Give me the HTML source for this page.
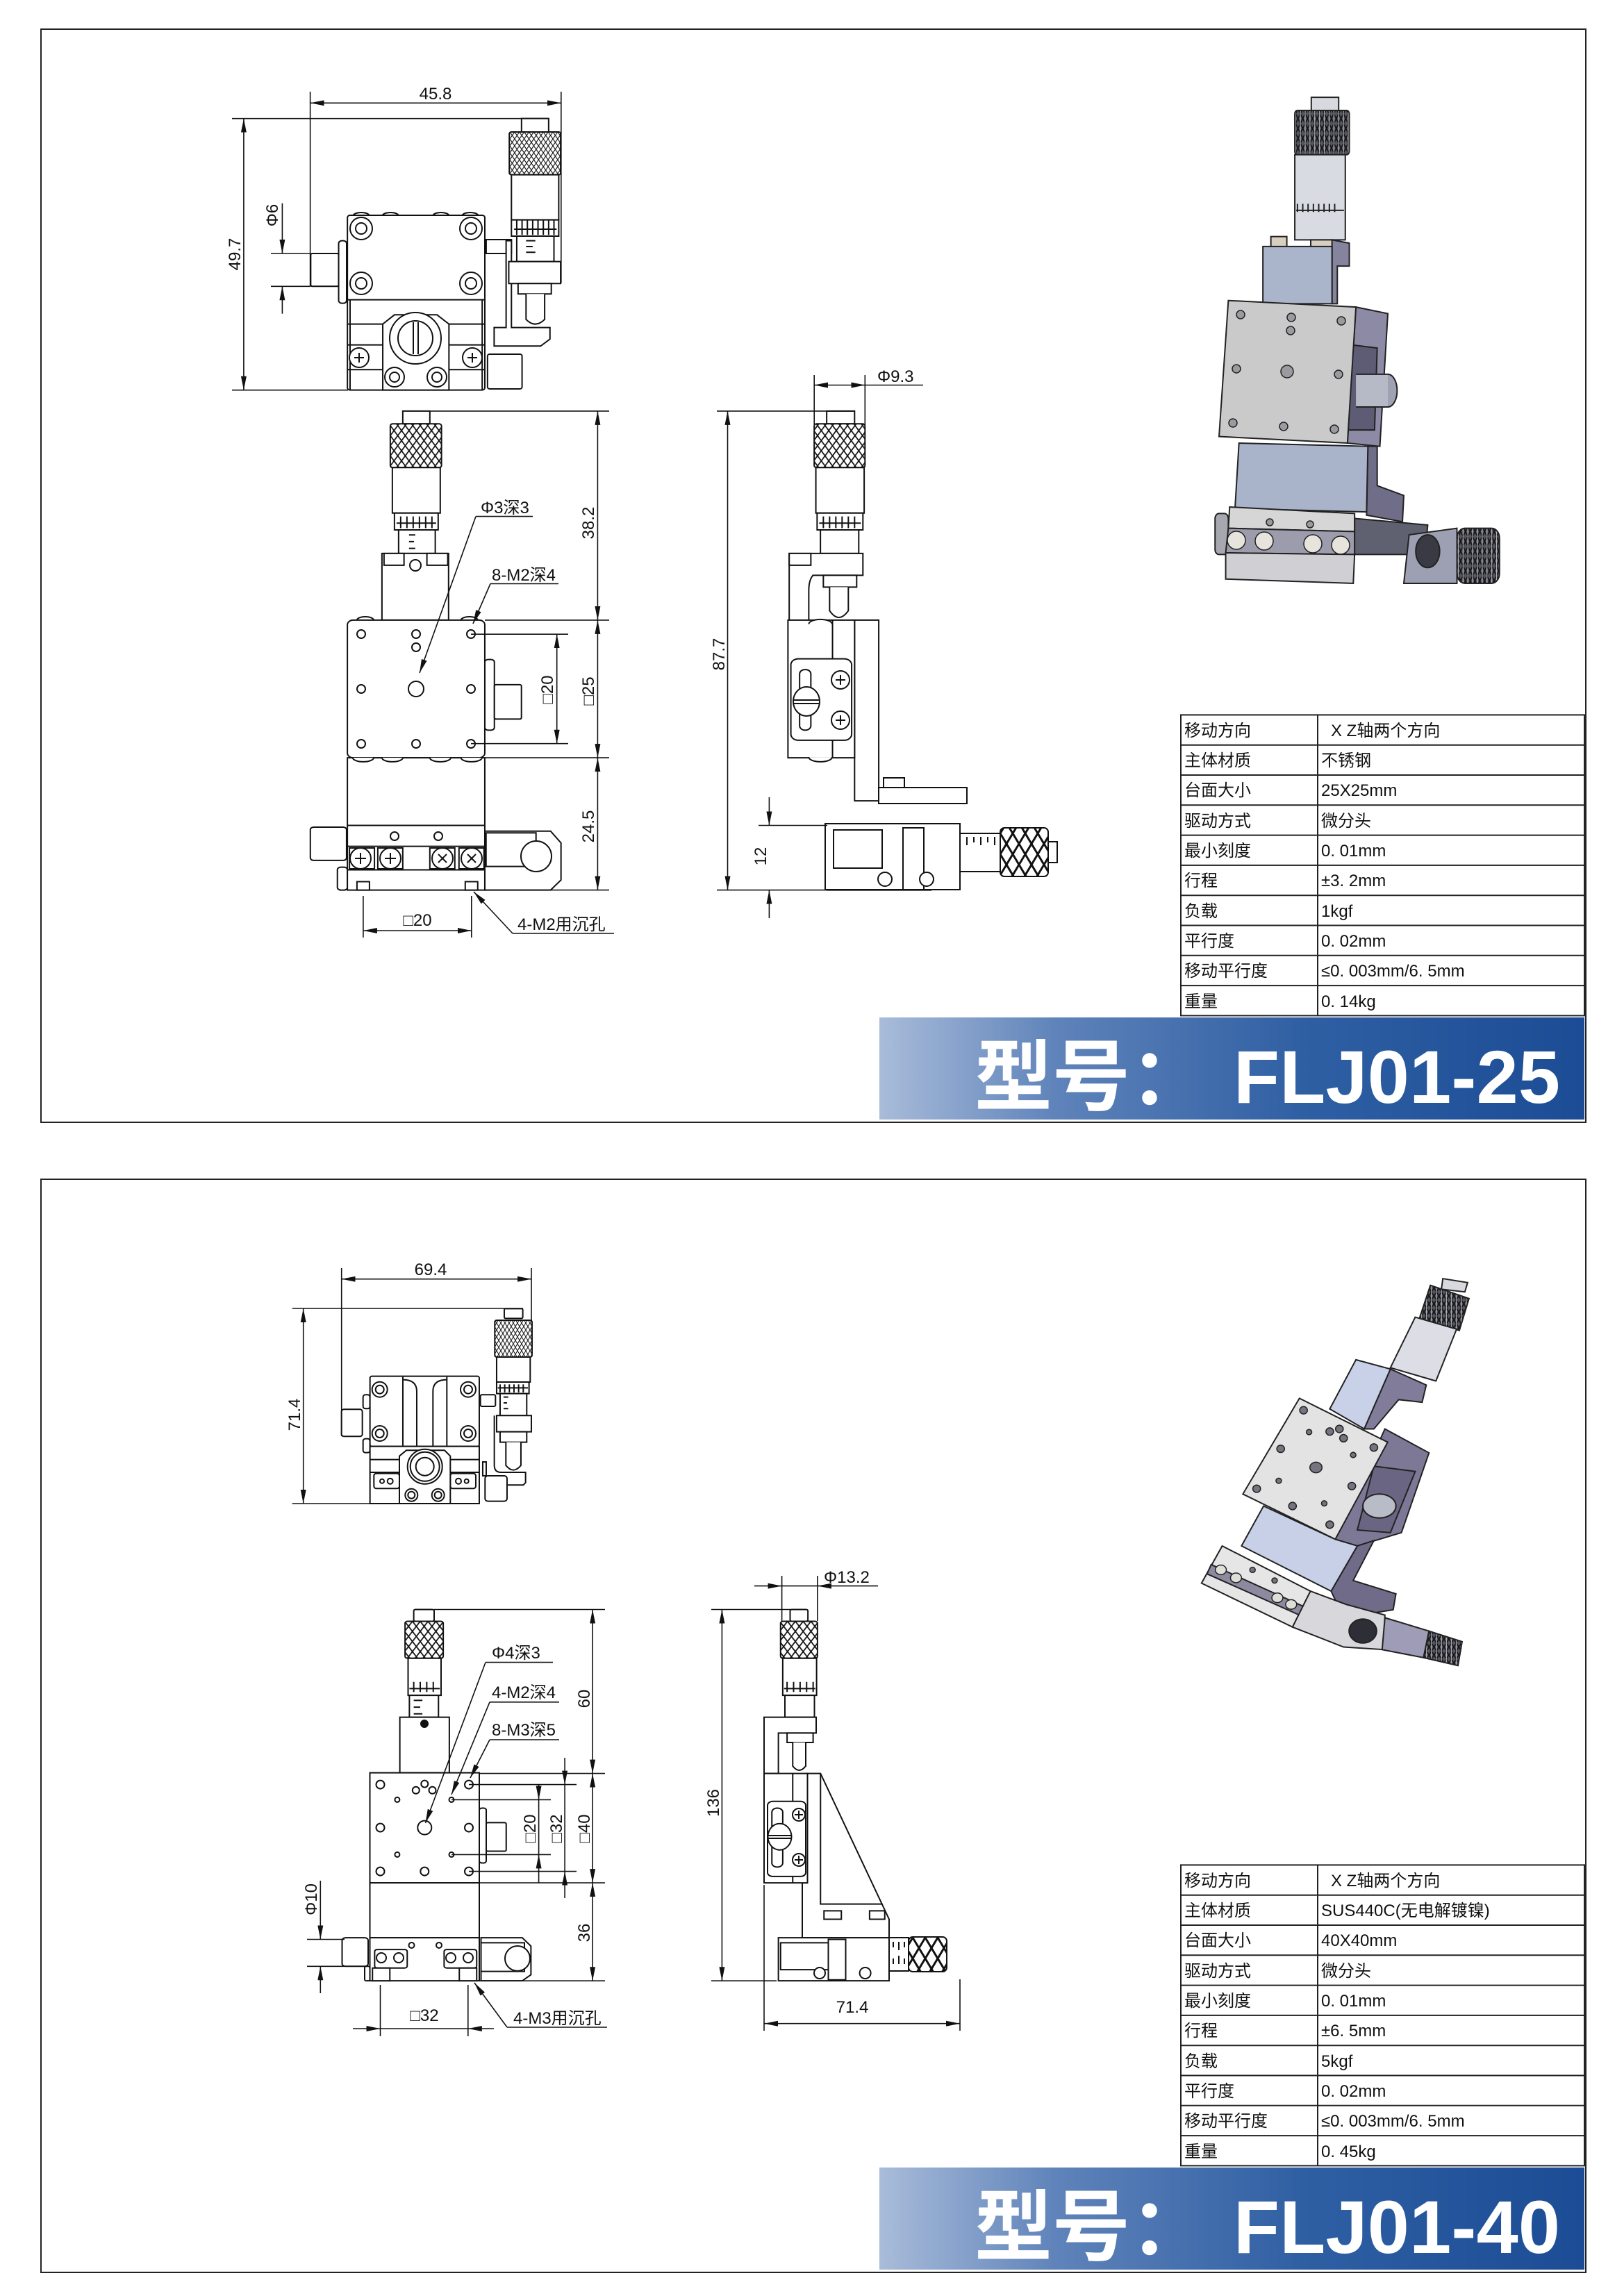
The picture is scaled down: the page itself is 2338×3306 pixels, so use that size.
<!DOCTYPE html>
<html><head><meta charset="utf-8"><style>
html,body{margin:0;padding:0;background:#fff}
svg{display:block}
.d *{vector-effect:non-scaling-stroke}
.d{fill:#fff;stroke:#111;stroke-width:2}
.dim{stroke:#111;stroke-width:1.6;fill:none}
.t{font-family:"Liberation Sans","Noto Sans CJK SC",sans-serif;font-size:24px;fill:#111}
.tb{font-family:"Liberation Sans","Noto Sans CJK SC",sans-serif;font-size:24px;fill:#111}
.r *{vector-effect:non-scaling-stroke}
.r{stroke:#222;stroke-width:2}
</style></head><body>
<svg width="2338" height="3306" viewBox="0 0 2338 3306" xmlns="http://www.w3.org/2000/svg">
<defs>
<marker id="a" viewBox="0 0 20 8" refX="20" refY="4" markerWidth="20" markerHeight="8" orient="auto-start-reverse" markerUnits="userSpaceOnUse"><path d="M0,0L20,4L0,8z" fill="#111"/></marker>
<pattern id="kn" width="18" height="30" patternUnits="userSpaceOnUse"><rect width="18" height="30" fill="#fff"/><path d="M0,0L18,30M18,0L0,30" stroke="#111" stroke-width="3"/></pattern>
<pattern id="kd" width="18" height="30" patternUnits="userSpaceOnUse"><rect width="18" height="30" fill="#55555f"/><path d="M0,0L18,30M18,0L0,30" stroke="#111" stroke-width="4"/><path d="M9,0L9,30" stroke="#b9b9c4" stroke-width="3"/></pattern>
<linearGradient id="bg" x1="0" y1="0" x2="1" y2="0"><stop offset="0" stop-color="#a9bcd9"/><stop offset="0.25" stop-color="#5f83ba"/><stop offset="0.6" stop-color="#2f5fa3"/><stop offset="1" stop-color="#1b4c95"/></linearGradient>
</defs>
<rect width="2338" height="3306" fill="#fff"/>

<rect x="59" y="42" width="2224" height="1574" fill="none" stroke="#222" stroke-width="2"/>
<rect x="59" y="1698" width="2224" height="1574" fill="none" stroke="#222" stroke-width="2"/>

<!-- ============ PANEL 1 TOP VIEW ============ -->
<g class="d" transform="translate(300,100) scale(0.3827,0.3333)">
<path d="M545,632a30,14 0 0 1 60,0M655,632a30,14 0 0 1 60,0M845,632a30,14 0 0 1 60,0M955,632a30,14 0 0 1 60,0"/>
<rect x="523" y="630" width="517" height="755" rx="10"/>
<line x1="523" y1="995" x2="1040" y2="995"/>
<line x1="523" y1="1100" x2="1040" y2="1100"/>
<line x1="523" y1="1190" x2="1040" y2="1190"/>
<line x1="523" y1="1297" x2="1040" y2="1297"/>
<line x1="533" y1="995" x2="533" y2="1385"/><line x1="1030" y1="995" x2="1030" y2="1385"/>
<path d="M700,1060L860,1060L905,1100L905,1385L656,1385L656,1100Z"/>
<rect x="385" y="795" width="105" height="142" rx="6"/>
<rect x="490" y="740" width="30" height="270" rx="12"/>
<rect x="1045" y="735" width="95" height="60"/>
<path d="M1120,740L1140,740L1140,1115L1285,1115L1285,1165L1250,1195L1075,1195L1075,1115L1120,1115Z"/>
<rect x="1050" y="1230" width="130" height="150" rx="8"/>
<rect x="1178" y="212" width="102" height="58"/>
<rect x="1132" y="270" width="193" height="185" rx="8" fill="url(#kn)"/>
<rect x="1140" y="455" width="178" height="195"/>
<rect x="1140" y="650" width="178" height="70"/>
<path d="M1150,690L1310,690M1160,650L1160,715M1180,650L1180,715M1200,650L1200,715M1220,650L1220,715M1240,650L1240,715M1260,650L1260,715M1280,650L1280,715M1300,650L1300,715" fill="none"/>
<rect x="1160" y="720" width="140" height="110"/>
<path d="M1195,740L1230,740M1195,765L1220,765M1195,790L1230,790" fill="none"/>
<rect x="1130" y="830" width="195" height="95"/>
<rect x="1165" y="925" width="125" height="45"/>
<path d="M1195,970L1195,1080Q1230,1120 1265,1080L1265,970"/>
</g>
<g fill="#fff" stroke="#111" stroke-width="2">
<circle cx="520" cy="329" r="16"/><circle cx="520" cy="329" r="8"/>
<circle cx="678" cy="329" r="16"/><circle cx="678" cy="329" r="8"/>
<circle cx="520" cy="408" r="16"/><circle cx="520" cy="408" r="8"/>
<circle cx="678" cy="408" r="16"/><circle cx="678" cy="408" r="8"/>
<circle cx="598" cy="487" r="37"/><circle cx="598" cy="487" r="25"/>
<path d="M595,464L595,510M602,464L602,510"/>
<circle cx="517" cy="515" r="14"/><circle cx="680" cy="515" r="14"/>
<circle cx="568" cy="543" r="14"/><circle cx="568" cy="543" r="7"/>
<circle cx="629" cy="543" r="14"/><circle cx="629" cy="543" r="7"/>
<path d="M510,515h14M517,508v14M673,515h14M680,508v14"/>
</g>
<g class="dim">
<line x1="446.6" y1="148.3" x2="807.8" y2="148.3" marker-start="url(#a)" marker-end="url(#a)"/>
<line x1="446.6" y1="132" x2="446.6" y2="412"/><line x1="807.8" y1="132" x2="807.8" y2="408"/>
<line x1="350.9" y1="170.7" x2="350.9" y2="561.7" marker-start="url(#a)" marker-end="url(#a)"/>
<line x1="334" y1="170.7" x2="790" y2="170.7"/><line x1="334" y1="561.7" x2="501" y2="561.7"/>
<line x1="406.4" y1="292.7" x2="406.4" y2="365" marker-end="url(#a)"/>
<line x1="406.4" y1="412.3" x2="406.4" y2="451.7" marker-start="url(#a)"/>
<line x1="390" y1="365" x2="447" y2="365"/><line x1="390" y1="412.3" x2="447" y2="412.3"/>
</g>
<text class="t" x="627" y="143" text-anchor="middle">45.8</text>
<text class="t" transform="translate(346,366) rotate(-90)" text-anchor="middle">49.7</text>
<text class="t" transform="translate(400,310) rotate(-90)" text-anchor="middle">Φ6</text>

<!-- ============ PANEL 1 FRONT + SIDE ============ -->
<g class="d" transform="translate(400,540) scale(0.5995,0.4847)">
<rect x="300" y="107" width="65" height="38"/>
<rect x="270" y="145" width="123" height="130" rx="6" fill="url(#kn)"/>
<rect x="275" y="275" width="115" height="135"/>
<rect x="280" y="410" width="105" height="50"/>
<path d="M285,440L380,440M295,420v35M310,420v35M325,420v35M340,420v35M355,420v35M370,420v35" fill="none"/>
<rect x="290" y="460" width="88" height="70"/>
<path d="M315,475h15M315,495h12M315,515h15" fill="none"/>
<rect x="250" y="530" width="160" height="198"/>
<rect x="255" y="530" width="48" height="35"/><rect x="358" y="530" width="50" height="35"/>
<path d="M190,728a20,10 0 0 1 40,0M440,728a20,10 0 0 1 40,0"/>
<rect x="497" y="845" width="23" height="210" rx="8"/>
<rect x="520" y="920" width="65" height="102" rx="4"/>
<rect x="167" y="728" width="330" height="409" rx="14"/>
<rect x="167" y="1137" width="330" height="201"/>
<path d="M180,1137a25,12 0 0 0 50,0M250,1137a25,12 0 0 0 50,0M365,1137a25,12 0 0 0 50,0M440,1137a25,12 0 0 0 50,0"/>
<rect x="78" y="1343" width="87" height="99" rx="8"/>
<rect x="143" y="1462" width="24" height="68" rx="8"/>
<path d="M497,1355L655,1355L680,1390L680,1500L655,1530L497,1530Z"/>
<rect x="500" y="1360" width="120" height="100"/>
<rect x="167" y="1338" width="330" height="192"/>
<line x1="167" y1="1400" x2="497" y2="1400"/><line x1="167" y1="1470" x2="497" y2="1470"/>
<rect x="172" y="1405" width="60" height="62"/><rect x="240" y="1405" width="60" height="62"/>
<rect x="365" y="1405" width="60" height="62"/><rect x="435" y="1405" width="60" height="62"/>
<rect x="190" y="1505" width="30" height="25"/><rect x="450" y="1505" width="30" height="25"/>
<rect x="1318" y="107" width="67" height="38"/>
<rect x="1288" y="145" width="122" height="130" rx="6" fill="url(#kn)"/>
<rect x="1292" y="275" width="116" height="135"/>
<rect x="1295" y="410" width="110" height="50"/>
<path d="M1300,440L1400,440M1310,420v35M1325,420v35M1340,420v35M1355,420v35M1370,420v35M1385,420v35" fill="none"/>
<rect x="1303" y="460" width="92" height="70"/>
<path d="M1228,530L1405,530L1405,595L1285,595Q1275,610 1275,640L1275,740L1228,740Z"/>
<rect x="1228" y="530" width="52" height="35"/>
<rect x="1310" y="595" width="80" height="35"/>
<path d="M1325,630L1325,700Q1347,740 1370,700L1370,630"/>
<rect x="1385" y="728" width="58" height="537"/>
<rect x="1225" y="728" width="160" height="409"/>
<line x1="1332" y1="728" x2="1332" y2="1137"/>
<path d="M1275,740a28,14 0 0 1 56,0M1275,1135a28,14 0 0 0 56,0"/>
<rect x="1232" y="843" width="146" height="242" rx="18"/>
<rect x="1253" y="875" width="27" height="180" rx="13"/>
<rect x="1320" y="1338" width="248" height="192"/>
</g>
<g fill="#fff" stroke="#111" stroke-width="2">
<circle cx="598" cy="814" r="8"/>
<circle cx="520" cy="913" r="6"/><circle cx="599" cy="913" r="6"/><circle cx="678" cy="913" r="6"/>
<circle cx="599" cy="932" r="6"/>
<circle cx="520" cy="992" r="6"/><circle cx="599" cy="992" r="11"/><circle cx="678" cy="992" r="6"/>
<circle cx="520" cy="1071" r="6"/><circle cx="599" cy="1071" r="6"/><circle cx="678" cy="1071" r="6"/>
<circle cx="568" cy="1204" r="6"/><circle cx="631" cy="1204" r="6"/>
<circle cx="519" cy="1236" r="15"/><circle cx="562" cy="1236" r="15"/><circle cx="637" cy="1236" r="15"/><circle cx="679" cy="1236" r="15"/>
<path d="M511,1236h16M519,1228v16M554,1236h16M562,1228v16M631,1230l12,12M643,1230l-12,12M673,1230l12,12M685,1230l-12,12"/>
<circle cx="772" cy="1233" r="22"/>
<ellipse cx="1161" cy="1010" rx="19" ry="21"/><path d="M1143,1008h36M1143,1013h36"/>
<circle cx="1210" cy="979" r="13"/><circle cx="1210" cy="1037" r="13"/>
<path d="M1203,979h14M1210,972v14M1203,1037h14M1210,1030v14"/>
<rect x="1265" y="1134" width="127" height="23"/>
<rect x="1272" y="1120" width="30" height="14"/>
<rect x="1188" y="1186" width="194" height="95"/>
<rect x="1200" y="1195" width="70" height="55"/>
<rect x="1300" y="1192" width="30" height="89"/>
<circle cx="1274" cy="1266" r="10"/><circle cx="1334" cy="1266" r="10"/>
<rect x="1382" y="1200" width="58" height="55"/>
<path d="M1392,1205v12M1402,1205v8M1412,1205v12M1422,1205v8M1432,1205v12"/>
<rect x="1440" y="1192" width="69" height="70" rx="6" fill="url(#kn)"/>
<rect x="1509" y="1212" width="13" height="30"/>
</g>
<g class="dim">
<line x1="860.4" y1="591.9" x2="860.4" y2="892.9" marker-start="url(#a)" marker-end="url(#a)"/>
<line x1="860.4" y1="892.9" x2="860.4" y2="1091.1" marker-start="url(#a)" marker-end="url(#a)"/>
<line x1="860.4" y1="1091.1" x2="860.4" y2="1281.6" marker-start="url(#a)" marker-end="url(#a)"/>
<line x1="619" y1="591.9" x2="877" y2="591.9"/>
<line x1="698" y1="892.9" x2="877" y2="892.9"/>
<line x1="698" y1="1091.1" x2="877" y2="1091.1"/>
<line x1="698" y1="1281.6" x2="877" y2="1281.6"/>
<line x1="801.7" y1="913.2" x2="801.7" y2="1070.7" marker-start="url(#a)" marker-end="url(#a)"/>
<line x1="678" y1="913.2" x2="818" y2="913.2"/><line x1="678" y1="1070.7" x2="818" y2="1070.7"/>
<line x1="522.9" y1="1290" x2="522.9" y2="1350"/><line x1="678.8" y1="1290" x2="678.8" y2="1350"/>
<line x1="522.9" y1="1340" x2="678.8" y2="1340" marker-start="url(#a)" marker-end="url(#a)"/>
<line x1="738" y1="1344" x2="884" y2="1344"/><line x1="738" y1="1344" x2="682" y2="1284" marker-end="url(#a)"/>
<line x1="685" y1="743.6" x2="767" y2="743.6"/><line x1="685" y1="743.6" x2="604" y2="969" marker-end="url(#a)"/>
<line x1="706" y1="840.5" x2="804" y2="840.5"/><line x1="706" y1="840.5" x2="681" y2="898" marker-end="url(#a)"/>
<line x1="1047.5" y1="591.9" x2="1047.5" y2="1281.6" marker-start="url(#a)" marker-end="url(#a)"/>
<line x1="1032" y1="591.9" x2="1230" y2="591.9"/><line x1="1032" y1="1281.6" x2="1200" y2="1281.6"/>
<line x1="1172.2" y1="554.5" x2="1245.3" y2="554.5" marker-start="url(#a)" marker-end="url(#a)"/>
<line x1="1245.3" y1="554.5" x2="1329" y2="554.5"/>
<line x1="1172.2" y1="540" x2="1172.2" y2="612"/><line x1="1245.3" y1="540" x2="1245.3" y2="612"/>
<line x1="1107.4" y1="1148" x2="1107.4" y2="1188.5" marker-end="url(#a)"/>
<line x1="1107.4" y1="1281.6" x2="1107.4" y2="1322" marker-start="url(#a)"/>
<line x1="1092" y1="1188.5" x2="1191" y2="1188.5"/>
</g>
<text class="t" transform="translate(855,753) rotate(-90)" text-anchor="middle">38.2</text>
<text class="t" transform="translate(855,995) rotate(-90)" text-anchor="middle">□25</text>
<text class="t" transform="translate(855,1190) rotate(-90)" text-anchor="middle">24.5</text>
<text class="t" transform="translate(796,993) rotate(-90)" text-anchor="middle">□20</text>
<text class="t" x="601" y="1333" text-anchor="middle">□20</text>
<text class="t" x="745" y="1339">4-M2用沉孔</text>
<text class="t" x="692" y="739">Φ3深3</text>
<text class="t" x="708" y="836">8-M2深4</text>
<text class="t" transform="translate(1043,942) rotate(-90)" text-anchor="middle">87.7</text>
<text class="t" x="1263" y="550">Φ9.3</text>
<text class="t" transform="translate(1103,1233) rotate(-90)" text-anchor="middle">12</text>

<!-- ============ PANEL 1 RENDER ============ -->
<g class="r" transform="translate(1600,100) scale(0.3827,0.4719)">
<rect x="752" y="85" width="103" height="45" fill="#d8d9de"/>
<rect x="690" y="125" width="205" height="135" rx="10" fill="url(#kd)"/>
<rect x="690" y="260" width="190" height="260" fill="#d9dbe3"/>
<path d="M695,430L875,430M700,410v25M720,410v25M740,410v25M760,410v25M780,410v25M800,410v25M820,410v25M840,410v25" fill="none"/>
<rect x="600" y="510" width="60" height="35" fill="#d9cfc0"/><rect x="750" y="520" width="85" height="30" fill="#d9cfc0"/>
<path d="M830,520L895,530L895,600L850,600L850,715L830,715Z" fill="#85839e"/>
<rect x="570" y="540" width="260" height="175" fill="#aab4ca"/>
<path d="M920,725L1040,745L1010,1150L888,1140Z" fill="#8c8aa4"/>
<path d="M900,840L1000,850L990,1100L890,1100Z" fill="#5e5c74"/>
<ellipse cx="1040" cy="980" rx="35" ry="50" fill="#9ea2b2"/>
<rect x="920" y="930" width="120" height="100" fill="#b6bac6" stroke="none"/>
<path d="M920,930L1040,930M920,1030L1040,1030" fill="none"/>
<path d="M440,705L920,725L888,1140L405,1120Z" fill="#cacaca"/>
<path d="M965,1150L1000,1150L1000,1270L1100,1300L1095,1380L960,1360Z" fill="#6f6d88"/>
<path d="M480,1140L965,1150L960,1350L465,1340Z" fill="#a9b4ca"/>
<rect x="390" y="1355" width="50" height="125" rx="15" fill="#a7a7b0"/>
<path d="M445,1335L915,1355L915,1410L440,1400Z" fill="#d6d6d6"/>
<path d="M440,1400L915,1410L915,1480L430,1475Z" fill="#9c9cac"/>
<path d="M430,1475L915,1480L910,1568L430,1555Z" fill="#cfcfd4"/>
<path d="M915,1370L1190,1390L1180,1480L915,1480Z" fill="#5f6070"/>
<path d="M1120,1420L1300,1400L1300,1568L1100,1568Z" fill="#9da0b3"/>
<ellipse cx="1190" cy="1470" rx="45" ry="50" fill="#3a3a44"/>
<rect x="1300" y="1400" width="160" height="168" rx="30" fill="url(#kd)"/>
</g>
<g stroke="#222" stroke-width="1.5" fill="#9a9aa0">
<circle cx="1786" cy="453" r="6"/><circle cx="1859" cy="457" r="6"/><circle cx="1931" cy="462" r="6"/>
<circle cx="1858" cy="476" r="6"/>
<circle cx="1780" cy="531" r="6"/><circle cx="1853" cy="535" r="9"/><circle cx="1927" cy="539" r="6"/>
<circle cx="1775" cy="609" r="6"/><circle cx="1848" cy="614" r="6"/><circle cx="1921" cy="618" r="6"/>
<circle cx="1828" cy="752" r="5"/><circle cx="1886" cy="755" r="5"/>
<g fill="#e6e4dc"><circle cx="1780" cy="778" r="13"/><circle cx="1820" cy="779" r="13"/><circle cx="1890" cy="783" r="13"/><circle cx="1930" cy="785" r="13"/></g>
</g>

<!-- ============ PANEL 1 TABLE ============ -->
<g stroke="#222" stroke-width="2" fill="none">
<rect x="1700" y="1029.4" width="581" height="433"/>
<line x1="1897" y1="1029.4" x2="1897" y2="1462.4"/>
<path d="M1700,1072.7H2281M1700,1116H2281M1700,1159.3H2281M1700,1202.6H2281M1700,1245.9H2281M1700,1289.2H2281M1700,1332.5H2281M1700,1375.8H2281M1700,1419.1H2281"/>
</g>
<g class="tb">
<text x="1705" y="1060">移动方向</text><text x="1916" y="1060">X Z轴两个方向</text>
<text x="1705" y="1103">主体材质</text><text x="1902" y="1103">不锈钢</text>
<text x="1705" y="1146">台面大小</text><text x="1902" y="1146">25X25mm</text>
<text x="1705" y="1190">驱动方式</text><text x="1902" y="1190">微分头</text>
<text x="1705" y="1233">最小刻度</text><text x="1902" y="1233">0. 01mm</text>
<text x="1705" y="1276">行程</text><text x="1902" y="1276">±3. 2mm</text>
<text x="1705" y="1320">负载</text><text x="1902" y="1320">1kgf</text>
<text x="1705" y="1363">平行度</text><text x="1902" y="1363">0. 02mm</text>
<text x="1705" y="1406">移动平行度</text><text x="1902" y="1406">≤0. 003mm/6. 5mm</text>
<text x="1705" y="1450">重量</text><text x="1902" y="1450">0. 14kg</text>
</g>
<rect x="1266" y="1465" width="1015" height="147" fill="url(#bg)"/>
<text x="1403" y="1590" font-family="'Noto Sans CJK SC','WenQuanYi Zen Hei',sans-serif" font-weight="bold" font-size="112" fill="#fff">型号：</text>
<text x="1776" y="1588" font-family="'Liberation Sans',sans-serif" font-weight="bold" font-size="108" fill="#fff" textLength="470" lengthAdjust="spacing">FLJ01-25</text>

<!-- ============ PANEL 2 TOP VIEW ============ -->
<g class="d" transform="translate(400,1790) scale(0.3333)">
<rect x="368" y="655" width="30" height="60" rx="10"/><rect x="368" y="845" width="30" height="60" rx="10"/>
<rect x="275" y="718" width="90" height="117" rx="10"/>
<rect x="398" y="575" width="472" height="303" rx="8"/>
<path d="M540,578L540,875M730,578L730,875M540,590Q600,590 600,640L600,875M730,590Q670,590 670,640L670,875" fill="none"/>
<rect x="398" y="878" width="472" height="247"/>
<line x1="398" y1="935" x2="870" y2="935"/><line x1="398" y1="990" x2="870" y2="990"/>
<rect x="415" y="995" width="110" height="65" rx="10"/><rect x="745" y="995" width="110" height="65" rx="10"/>
<path d="M555,895L720,895L745,920L745,1125L525,1125L525,920Z"/>
<rect x="875" y="655" width="65" height="50" rx="6"/>
<rect x="885" y="945" width="15" height="60"/>
<path d="M935,745L935,960Q935,990 965,990L1070,990L1070,1035L1060,1045L990,1045" fill="none"/>
<rect x="978" y="283" width="80" height="42" rx="5"/>
<rect x="937" y="333" width="161" height="159" rx="8" fill="url(#kn)"/>
<rect x="945" y="492" width="145" height="108"/>
<rect x="945" y="600" width="140" height="50"/>
<path d="M950,625L1080,625M960,610v35M980,610v35M1000,610v35M1020,610v35M1040,610v35M1060,610v35" fill="none"/>
<rect x="960" y="650" width="115" height="95"/>
<path d="M975,665h20M975,690h15M975,715h20" fill="none"/>
<rect x="945" y="745" width="150" height="70"/>
<rect x="960" y="815" width="115" height="45"/>
<path d="M985,860L985,960Q1017,1000 1050,960L1050,860"/>
<rect x="895" y="1005" width="95" height="110" rx="12"/>
</g>
<g fill="#fff" stroke="#111" stroke-width="2">
<circle cx="546.7" cy="2000.7" r="11"/><circle cx="546.7" cy="2000.7" r="6"/>
<circle cx="674" cy="2000.7" r="11"/><circle cx="674" cy="2000.7" r="6"/>
<circle cx="546.7" cy="2064" r="11"/><circle cx="546.7" cy="2064" r="6"/>
<circle cx="674" cy="2064" r="11"/><circle cx="674" cy="2064" r="6"/>
<circle cx="611.7" cy="2111.7" r="25"/><circle cx="611.7" cy="2111.7" r="21"/><circle cx="611.7" cy="2111.7" r="13"/>
<circle cx="592.3" cy="2152.7" r="9"/><circle cx="592.3" cy="2152.7" r="5"/>
<circle cx="630.7" cy="2152.7" r="9"/><circle cx="630.7" cy="2152.7" r="5"/>
<circle cx="550" cy="2132.7" r="3"/><circle cx="561.7" cy="2132.7" r="4"/><circle cx="660" cy="2132.7" r="4"/><circle cx="671.7" cy="2132.7" r="3"/>
</g>
<g class="dim">
<line x1="491.7" y1="1841.7" x2="765" y2="1841.7" marker-start="url(#a)" marker-end="url(#a)"/>
<line x1="491.7" y1="1826" x2="491.7" y2="2068"/><line x1="765" y1="1826" x2="765" y2="1903"/>
<line x1="436.7" y1="1884" x2="436.7" y2="2165" marker-start="url(#a)" marker-end="url(#a)"/>
<line x1="420.7" y1="1884" x2="753" y2="1884"/><line x1="420.7" y1="2165" x2="533" y2="2165"/>
</g>
<text class="t" x="620" y="1836" text-anchor="middle">69.4</text>
<text class="t" transform="translate(432,2037) rotate(-90)" text-anchor="middle">71.4</text>

<!-- ============ PANEL 2 FRONT + SIDE ============ -->
<g class="d" transform="translate(380,2160) scale(0.625,0.4847)">
<rect x="345" y="325" width="47" height="35" rx="4"/>
<rect x="325" y="360" width="88" height="110" rx="6" fill="url(#kn)"/>
<rect x="332" y="470" width="76" height="110"/>
<path d="M335,560L405,560M345,540v30M360,540v30M375,540v30M390,540v30" fill="none"/>
<rect x="335" y="580" width="67" height="65"/>
<path d="M345,595h20M345,615h15M345,635h20" fill="none"/>
<rect x="313" y="645" width="114" height="165"/>
<rect x="496" y="915" width="16" height="163" rx="6"/>
<rect x="512" y="958" width="46" height="85" rx="4"/>
<rect x="244" y="810" width="252" height="327"/>
<rect x="244" y="1137" width="252" height="163"/>
<rect x="180" y="1300" width="60" height="85" rx="8"/>
<rect x="232" y="1385" width="12" height="43" rx="4"/>
<path d="M500,1300L595,1300L615,1325L615,1410L595,1428L500,1428Z"/>
<rect x="500" y="1315" width="100" height="85"/>
<rect x="244" y="1300" width="252" height="128"/>
<rect x="255" y="1335" width="75" height="55" rx="6"/><rect x="415" y="1335" width="75" height="55" rx="6"/>
<rect x="250" y="1390" width="40" height="38"/><rect x="450" y="1390" width="40" height="38"/>
<rect x="1212" y="325" width="41" height="35" rx="4"/>
<rect x="1190" y="360" width="85" height="110" rx="6" fill="url(#kn)"/>
<rect x="1195" y="470" width="78" height="110"/>
<path d="M1198,560L1270,560M1205,540v30M1220,540v30M1235,540v30M1250,540v30M1265,540v30" fill="none"/>
<rect x="1200" y="580" width="68" height="65"/>
<path d="M1152,645L1272,645L1272,692L1185,692L1185,812L1152,812Z"/>
<rect x="1205" y="692" width="60" height="28"/>
<path d="M1218,720L1218,790Q1233,815 1248,790L1248,720"/>
<path d="M1252,812L1282,812L1440,1245L1440,1300L1240,1300L1240,1137L1252,1137Z"/>
<path d="M1282,812L1282,1200L1425,1200" fill="none"/>
<rect x="1290" y="1220" width="40" height="25"/><rect x="1395" y="1220" width="35" height="25"/>
<rect x="1152" y="812" width="100" height="325"/>
<line x1="1218" y1="812" x2="1218" y2="1137"/>
<rect x="1160" y="895" width="88" height="223" rx="12"/>
<rect x="1170" y="915" width="25" height="175" rx="12"/>
<rect x="1185" y="1300" width="255" height="128"/>
<rect x="1190" y="1315" width="110" height="80"/>
<rect x="1300" y="1305" width="40" height="120"/>
</g>
<g fill="#fff" stroke="#111" stroke-width="2">
<circle cx="611" cy="2482" r="5" fill="#111"/>
<circle cx="547.5" cy="2569.6" r="6"/><circle cx="675" cy="2569.6" r="6"/>
<circle cx="547.5" cy="2694.6" r="6"/><circle cx="675" cy="2694.6" r="6"/>
<circle cx="547.5" cy="2631.6" r="6"/><circle cx="675" cy="2631.6" r="6"/>
<circle cx="611.3" cy="2694.6" r="6"/><circle cx="611.3" cy="2631.6" r="10"/>
<circle cx="571.9" cy="2591.4" r="3.5"/><circle cx="650" cy="2591.4" r="3.5"/>
<circle cx="571.9" cy="2670.4" r="3.5"/><circle cx="650" cy="2670.4" r="3.5"/>
<circle cx="598.8" cy="2577.8" r="5"/><circle cx="611.3" cy="2568.6" r="5"/><circle cx="622.5" cy="2577.8" r="5"/>
<circle cx="592.5" cy="2801" r="4"/><circle cx="632" cy="2801" r="4"/>
<circle cx="549" cy="2819" r="7"/><circle cx="574" cy="2819" r="7"/><circle cx="649" cy="2819" r="7"/><circle cx="674" cy="2819" r="7"/>
<circle cx="745" cy="2820" r="18"/>
<ellipse cx="1122.5" cy="2644.7" rx="17" ry="19"/><path d="M1106,2643h33M1106,2647h33"/>
<circle cx="1150" cy="2613" r="9"/><circle cx="1150" cy="2678" r="9"/>
<path d="M1144,2613h12M1150,2607v12M1144,2678h12M1150,2672v12"/>
<circle cx="1180" cy="2841" r="8"/><circle cx="1245.6" cy="2841" r="8"/>
<rect x="1280" y="2790" width="28" height="48"/>
<path d="M1286,2796v8M1294,2796v12M1302,2796v8M1286,2820v8M1294,2816v12M1302,2820v8"/>
<rect x="1308" y="2789" width="55" height="50" rx="6" fill="url(#kn)"/>
</g>
<g class="dim">
<line x1="853.1" y1="2317.5" x2="853.1" y2="2553.6" marker-start="url(#a)" marker-end="url(#a)"/>
<line x1="853.1" y1="2553.6" x2="853.1" y2="2711.1" marker-start="url(#a)" marker-end="url(#a)"/>
<line x1="853.1" y1="2711.1" x2="853.1" y2="2852.2" marker-start="url(#a)" marker-end="url(#a)"/>
<line x1="625" y1="2317.5" x2="871" y2="2317.5"/>
<line x1="690" y1="2553.6" x2="871" y2="2553.6"/>
<line x1="690" y1="2711.1" x2="871" y2="2711.1"/>
<line x1="690" y1="2852.2" x2="871" y2="2852.2"/>
<line x1="813.1" y1="2531" x2="813.1" y2="2569.6" marker-end="url(#a)"/>
<line x1="813.1" y1="2733" x2="813.1" y2="2694.6" marker-end="url(#a)"/>
<line x1="813.1" y1="2569.6" x2="813.1" y2="2694.6"/>
<line x1="675" y1="2569.6" x2="830" y2="2569.6"/><line x1="675" y1="2694.6" x2="830" y2="2694.6"/>
<line x1="775.6" y1="2569" x2="775.6" y2="2591.4" marker-end="url(#a)"/>
<line x1="775.6" y1="2711" x2="775.6" y2="2670.4" marker-end="url(#a)"/>
<line x1="775.6" y1="2591.4" x2="775.6" y2="2670.4"/>
<line x1="650" y1="2591.4" x2="793" y2="2591.4"/><line x1="650" y1="2670.4" x2="793" y2="2670.4"/>
<line x1="699" y1="2393.6" x2="796" y2="2393.6"/><line x1="699" y1="2393.6" x2="612.5" y2="2625" marker-end="url(#a)"/>
<line x1="705" y1="2450.8" x2="805" y2="2450.8"/><line x1="705" y1="2450.8" x2="650" y2="2584" marker-end="url(#a)"/>
<line x1="705" y1="2505" x2="805" y2="2505"/><line x1="705" y1="2505" x2="677" y2="2560" marker-end="url(#a)"/>
<line x1="730" y1="2919" x2="874" y2="2919"/><line x1="730" y1="2919" x2="683" y2="2855" marker-end="url(#a)"/>
<line x1="547.5" y1="2858" x2="547.5" y2="2932"/><line x1="673.8" y1="2858" x2="673.8" y2="2932"/>
<line x1="508" y1="2921" x2="547.5" y2="2921" marker-end="url(#a)"/>
<line x1="711" y1="2921" x2="673.8" y2="2921" marker-end="url(#a)"/>
<line x1="547.5" y1="2921" x2="673.8" y2="2921"/>
<line x1="461.3" y1="2708" x2="461.3" y2="2792.5" marker-end="url(#a)"/>
<line x1="461.3" y1="2870" x2="461.3" y2="2831.3" marker-end="url(#a)"/>
<line x1="442" y1="2792.5" x2="496" y2="2792.5"/><line x1="442" y1="2831.3" x2="496" y2="2831.3"/>
<line x1="1039.4" y1="2317.5" x2="1039.4" y2="2852.2" marker-start="url(#a)" marker-end="url(#a)"/>
<line x1="1024" y1="2317.5" x2="1149" y2="2317.5"/><line x1="1024" y1="2852.2" x2="1118" y2="2852.2"/>
<line x1="1086" y1="2283.6" x2="1125.6" y2="2283.6" marker-end="url(#a)"/>
<line x1="1264" y1="2283.6" x2="1176.9" y2="2283.6" marker-end="url(#a)"/>
<line x1="1125.6" y1="2283.6" x2="1176.9" y2="2283.6"/>
<line x1="1125.6" y1="2269" x2="1125.6" y2="2334"/><line x1="1176.9" y1="2269" x2="1176.9" y2="2334"/>
<line x1="1100" y1="2913.7" x2="1382" y2="2913.7" marker-start="url(#a)" marker-end="url(#a)"/>
<line x1="1100" y1="2714" x2="1100" y2="2924"/><line x1="1382" y1="2850" x2="1382" y2="2924"/>
</g>
<text class="t" transform="translate(849,2446) rotate(-90)" text-anchor="middle">60</text>
<text class="t" transform="translate(849,2633) rotate(-90)" text-anchor="middle">□40</text>
<text class="t" transform="translate(849,2783) rotate(-90)" text-anchor="middle">36</text>
<text class="t" transform="translate(809,2633) rotate(-90)" text-anchor="middle">□32</text>
<text class="t" transform="translate(771,2633) rotate(-90)" text-anchor="middle">□20</text>
<text class="t" x="708" y="2388">Φ4深3</text>
<text class="t" x="708" y="2445">4-M2深4</text>
<text class="t" x="708" y="2499">8-M3深5</text>
<text class="t" x="739" y="2914">4-M3用沉孔</text>
<text class="t" x="611" y="2910" text-anchor="middle">□32</text>
<text class="t" transform="translate(456,2735) rotate(-90)" text-anchor="middle">Φ10</text>
<text class="t" transform="translate(1035,2596) rotate(-90)" text-anchor="middle">136</text>
<text class="t" x="1186" y="2279">Φ13.2</text>
<text class="t" x="1227" y="2898" text-anchor="middle">71.4</text>

<!-- ============ PANEL 2 RENDER ============ -->
<g class="r" transform="translate(1700,1820) scale(0.397,0.383)">
<path d="M950,55L1040,70L1030,105L945,95Z" fill="#d8d9de"/>
<path d="M905,80L1045,130L1010,250L865,205Z" fill="url(#kd)"/>
<path d="M850,200L1000,245L925,440L760,390Z" fill="#dcdde5"/>
<path d="M760,395L890,455L875,520L790,510L700,620L665,620Z" fill="#807c9a"/>
<path d="M635,360L760,395L665,620L540,545Z" fill="#c9d1e8"/>
<path d="M740,620L900,710L800,1010L640,1060L560,1035Z" fill="#7d7895"/>
<path d="M700,760L850,780L760,1010L640,1000Z" fill="#6a6582"/>
<ellipse cx="720" cy="910" rx="60" ry="45" fill="#b8bcc6"/>
<path d="M430,505L750,670L560,1035L225,865Z" fill="#e3e3e3"/>
<path d="M640,1060L700,1040L625,1190L780,1240L770,1300L590,1330L545,1230Z" fill="#6f6b88"/>
<path d="M300,910L560,1035L640,1060L545,1230L220,1060Z" fill="#c8d0e8"/>
<path d="M150,1060L470,1230L405,1365L75,1200Z" fill="#e6e6e6"/>
<path d="M110,1130L450,1290L430,1320L95,1165Z" fill="#8d8aa0"/>
<path d="M470,1230L600,1280L740,1320L740,1450L590,1440L405,1365Z" fill="#d8d8dc"/>
<path d="M740,1330L900,1380L880,1480L730,1450Z" fill="#9e9cb6"/>
<ellipse cx="660" cy="1380" rx="50" ry="45" fill="#2e2e36"/>
<path d="M900,1380L1020,1420L1005,1510L880,1480Z" fill="url(#kd)"/>
<g fill="#77737f" stroke-width="1.5">
<ellipse cx="445" cy="550" rx="14" ry="14"/><ellipse cx="465" cy="632" rx="10" ry="10"/><ellipse cx="540" cy="630" rx="14" ry="14"/><ellipse cx="575" cy="620" rx="14" ry="14"/><ellipse cx="590" cy="655" rx="14" ry="14"/>
<ellipse cx="700" cy="690" rx="14" ry="14"/><ellipse cx="362" cy="695" rx="14" ry="14"/><ellipse cx="625" cy="718" rx="10" ry="10"/>
<ellipse cx="490" cy="765" rx="22" ry="20"/><ellipse cx="355" cy="815" rx="10" ry="10"/><ellipse cx="620" cy="835" rx="14" ry="14"/>
<ellipse cx="275" cy="845" rx="14" ry="14"/><ellipse cx="520" cy="900" rx="10" ry="10"/><ellipse cx="405" cy="910" rx="14" ry="14"/><ellipse cx="540" cy="980" rx="14" ry="14"/>
<ellipse cx="260" cy="1150" rx="10" ry="10"/><ellipse cx="340" cy="1190" rx="10" ry="10"/>
</g>
<g fill="#e0ded8" stroke-width="1.5">
<ellipse cx="145" cy="1150" rx="20" ry="18"/><ellipse cx="200" cy="1180" rx="20" ry="18"/><ellipse cx="350" cy="1255" rx="20" ry="18"/><ellipse cx="400" cy="1280" rx="20" ry="18"/>
</g>
</g>

<!-- ============ PANEL 2 TABLE ============ -->
<g stroke="#222" stroke-width="2" fill="none">
<rect x="1700" y="2685.4" width="581" height="433"/>
<line x1="1897" y1="2685.4" x2="1897" y2="3118.4"/>
<path d="M1700,2728.7H2281M1700,2772H2281M1700,2815.3H2281M1700,2858.6H2281M1700,2901.9H2281M1700,2945.2H2281M1700,2988.5H2281M1700,3031.8H2281M1700,3075.1H2281"/>
</g>
<g class="tb">
<text x="1705" y="2716">移动方向</text><text x="1916" y="2716">X Z轴两个方向</text>
<text x="1705" y="2759">主体材质</text><text x="1902" y="2759">SUS440C(无电解镀镍)</text>
<text x="1705" y="2802">台面大小</text><text x="1902" y="2802">40X40mm</text>
<text x="1705" y="2846">驱动方式</text><text x="1902" y="2846">微分头</text>
<text x="1705" y="2889">最小刻度</text><text x="1902" y="2889">0. 01mm</text>
<text x="1705" y="2932">行程</text><text x="1902" y="2932">±6. 5mm</text>
<text x="1705" y="2976">负载</text><text x="1902" y="2976">5kgf</text>
<text x="1705" y="3019">平行度</text><text x="1902" y="3019">0. 02mm</text>
<text x="1705" y="3062">移动平行度</text><text x="1902" y="3062">≤0. 003mm/6. 5mm</text>
<text x="1705" y="3106">重量</text><text x="1902" y="3106">0. 45kg</text>
</g>
<rect x="1266" y="3121" width="1015" height="147" fill="url(#bg)"/>
<text x="1403" y="3246" font-family="'Noto Sans CJK SC','WenQuanYi Zen Hei',sans-serif" font-weight="bold" font-size="112" fill="#fff">型号：</text>
<text x="1776" y="3244" font-family="'Liberation Sans',sans-serif" font-weight="bold" font-size="108" fill="#fff" textLength="470" lengthAdjust="spacing">FLJ01-40</text>
</svg>
</body></html>
